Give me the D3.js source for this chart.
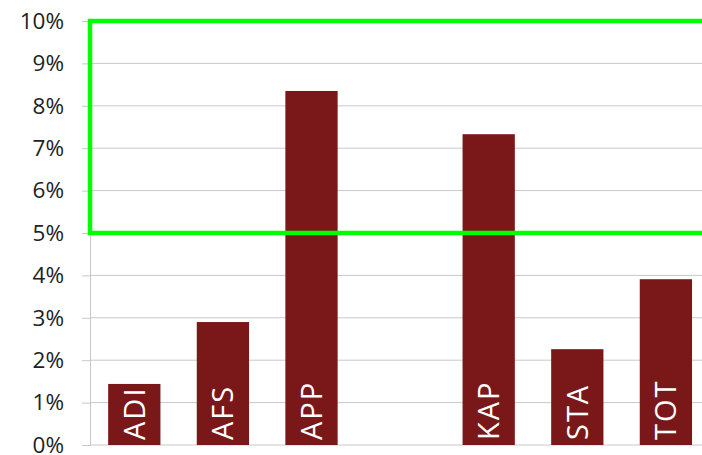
<!DOCTYPE html>
<html>
<head>
<meta charset="utf-8">
<script src="https://cdn.jsdelivr.net/npm/d3@7"></script>
<style>
  body { margin: 0; background: #fff; }
  svg { display: block; }
</style>
</head>
<body>
<svg width="702" height="455"></svg>
<script>
// DATA
const categories = ["ADI", "AFS", "APP", "", "KAP", "STA", "TOT"];
const values = [1.44, 2.9, 8.35, 0, 7.33, 2.26, 3.91];
const yTicks = [0, 1, 2, 3, 4, 5, 6, 7, 8, 9, 10];
const highlight = [5, 10];

const svg = d3.select("svg");
const margin = { top: 21, left: 90, bottom: 10 };
const height = +svg.attr("height");
const innerHeight = height - margin.top - margin.bottom;

// SCALES
const x = d3.scaleBand()
  .domain(categories.map((c, i) => i))
  .range([margin.left, margin.left + 88.6 * categories.length])
  .paddingInner(0.41)
  .paddingOuter(0.205);

const y = d3.scaleLinear()
  .domain([0, 10])
  .range([margin.top + innerHeight, margin.top]);

// gridlines
svg.append("g")
  .selectAll("line")
  .data(yTicks)
  .enter()
  .append("line")
  .attr("x1", margin.left)
  .attr("x2", 702)
  .attr("y1", d => y(d))
  .attr("y2", d => y(d))
  .attr("stroke", "#c8c8c8")
  .attr("stroke-width", 1);

// y axis
const yAxis = svg.append("g")
  .attr("transform", `translate(${margin.left},0)`)
  .call(d3.axisLeft(y).tickValues(yTicks).tickSize(8).tickPadding(18).tickFormat(d => d + "%"));
yAxis.select(".domain").attr("stroke", "#c8c8c8");
yAxis.selectAll(".tick line").attr("stroke", "#c8c8c8");
yAxis.selectAll("text")
  .attr("font-family", "'Open Sans', 'DejaVu Sans', sans-serif")
  .attr("font-size", 22.5)
  .attr("fill", "#222");

// bars
const g = svg.append("g")
  .selectAll("g")
  .data(categories.map((c, i) => ({ name: c, value: values[i], i })))
  .enter()
  .append("g");

g.append("rect")
  .attr("x", d => x(d.i))
  .attr("width", x.bandwidth())
  .attr("y", d => y(d.value))
  .attr("height", d => y(0) - y(d.value))
  .attr("fill", "#7a1719");

g.append("text")
  .attr("transform", d => `translate(${x(d.i) + x.bandwidth() / 2 + 10.5}, ${y(0) - 5}) rotate(-90)`)
  .attr("font-family", "'Open Sans', 'DejaVu Sans', sans-serif")
  .attr("font-size", 29)
  .attr("letter-spacing", 2)
  .attr("fill", "#fff")
  .text(d => d.name);

// green highlight box
svg.append("rect")
  .attr("x", margin.left)
  .attr("y", y(highlight[1]))
  .attr("width", 702 - margin.left + 10)
  .attr("height", y(highlight[0]) - y(highlight[1]))
  .attr("fill", "none")
  .attr("stroke", "#00ff00")
  .attr("stroke-width", 4.5);
</script>
</body>
</html>
